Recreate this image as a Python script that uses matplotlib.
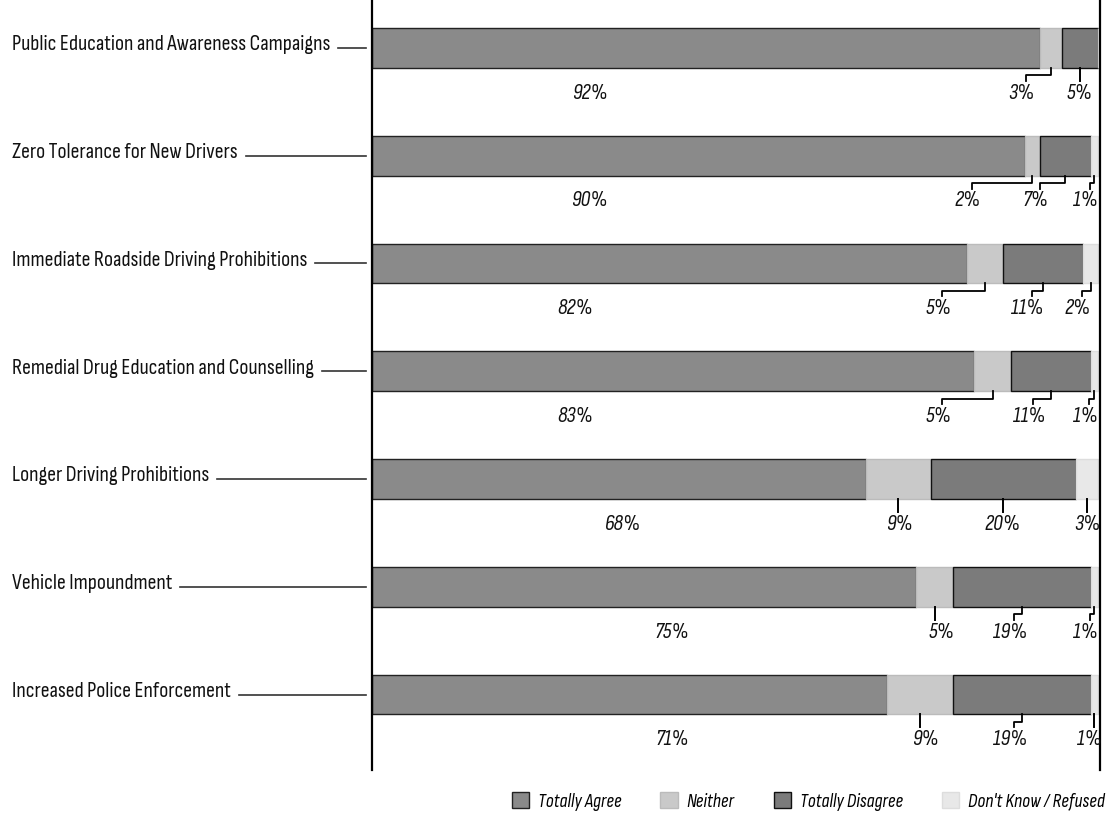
import matplotlib
matplotlib.use("Agg")
import matplotlib.pyplot as plt
from matplotlib.patches import Patch
from matplotlib.lines import Line2D
import numpy as np

categories = [
    "Public Education and Awareness Campaigns",
    "Zero Tolerance for New Drivers",
    "Immediate Roadside Driving Prohibitions",
    "Remedial Drug Education and Counselling",
    "Longer Driving Prohibitions",
    "Vehicle Impoundment",
    "Increased Police Enforcement",
]
agree = [92, 90, 82, 83, 68, 75, 71]
neither = [3, 2, 5, 5, 9, 5, 9]
disagree = [5, 7, 11, 11, 20, 19, 19]
dont_know = [0, 1, 2, 1, 3, 1, 1]
series_names = ["Totally Agree", "Neither", "Totally Disagree", "Don't Know / Refused"]

# layout: where each % label sits along the bar (x in % units), None = not shown
label_x = [
    [30, 89.5, 97.5, None],
    [30, 82, 91.4, 98.3],
    [28, 78, 90.3, 97.2],
    [28, 78, 90.5, 98.2],
    [34.4, 72.7, 86.9, 98.6],
    [41.3, 78.5, 87.9, 98.3],
    [41.3, 76.3, 87.9, 98.8],
]

colors = ["#8a8a8a", "#c9c9c9", "#7b7b7b", "#e8e8e8"]
edges = ["#222222", "#bbbbbb", "#111111", "#dddddd"]
FONT = ["Sofia Sans Condensed", "Roboto Condensed", "DejaVu Sans"]

fig = plt.figure(figsize=(11.08, 8.19), dpi=100)
ax = fig.add_axes([372 / 1108, 1 - 770 / 819, 728 / 1108, 770 / 819])

series = [agree, neither, disagree, dont_know]
y = np.arange(len(categories))
bar_h = 0.37
left = np.zeros(len(categories))
for vals, c, e, name in zip(series, colors, edges, series_names):
    vals = np.array(vals, dtype=float)
    ax.barh(y, vals, left=left, height=bar_h, color=c, edgecolor=e,
            linewidth=1.0, label=name)
    left += vals

ax.set_xlim(0, 100.3)
ax.set_ylim(6.70, -0.445)
ax.set_xticks([])
ax.set_yticks([])
for s in ["top", "bottom"]:
    ax.spines[s].set_visible(False)
ax.spines["left"].set_linewidth(1.6)
ax.spines["right"].set_linewidth(1.6)

# percentage labels with leader lines
for i in range(len(categories)):
    start = 0.0
    bottom = i + bar_h / 2
    for k, vals in enumerate(series):
        v = vals[i]
        center = start + v / 2
        start += v
        lx = label_x[i][k]
        if lx is None or v == 0:
            continue
        ax.text(lx, i + 0.42, f"{v}%", ha="center", va="center", fontsize=16,
                style="italic", family=FONT, color="#111111")
        if k == 0:
            continue
        tick_x = lx + (0.6 if lx < center else -0.6)
        if abs(center - lx) < 1.2:
            ax.plot([center, center], [bottom, bottom + 0.12], color="black", lw=1.4)
        else:
            ax.plot([center, center, tick_x, tick_x],
                    [bottom, bottom + 0.07, bottom + 0.07, bottom + 0.12],
                    color="black", lw=1.3)

# category labels with short leaders to the axis
blend = matplotlib.transforms.blended_transform_factory(fig.transFigure, ax.transData)
texts = []
for i, cat in enumerate(categories):
    t = fig.text(12 / 1108, i - 0.03, cat, ha="left", va="center", fontsize=15.8,
                 family=FONT, color="#111111", transform=blend)
    texts.append(t)

fig.canvas.draw()
renderer = fig.canvas.get_renderer()
for i, t in enumerate(texts):
    bb = t.get_window_extent(renderer)
    y_pix = ax.transData.transform((0, i))[1]
    x0 = (bb.x1 + 8) / fig.bbox.width
    x1 = 366 / 1108
    yf = y_pix / fig.bbox.height
    fig.add_artist(Line2D([x0, x1], [yf, yf], transform=fig.transFigure,
                          color="#333333", lw=1.2))

handles = [Patch(facecolor=c, edgecolor=e, label=n)
           for c, e, n in zip(colors, edges, series_names)]
fig.legend(handles=handles, loc="lower right", bbox_to_anchor=(1.013, -0.011),
           ncol=4, frameon=False, handlelength=0.9, handleheight=0.9,
           handletextpad=0.45, columnspacing=2.0,
           prop={"family": FONT, "style": "italic", "size": 14})

fig.savefig("out.png", dpi=100)
